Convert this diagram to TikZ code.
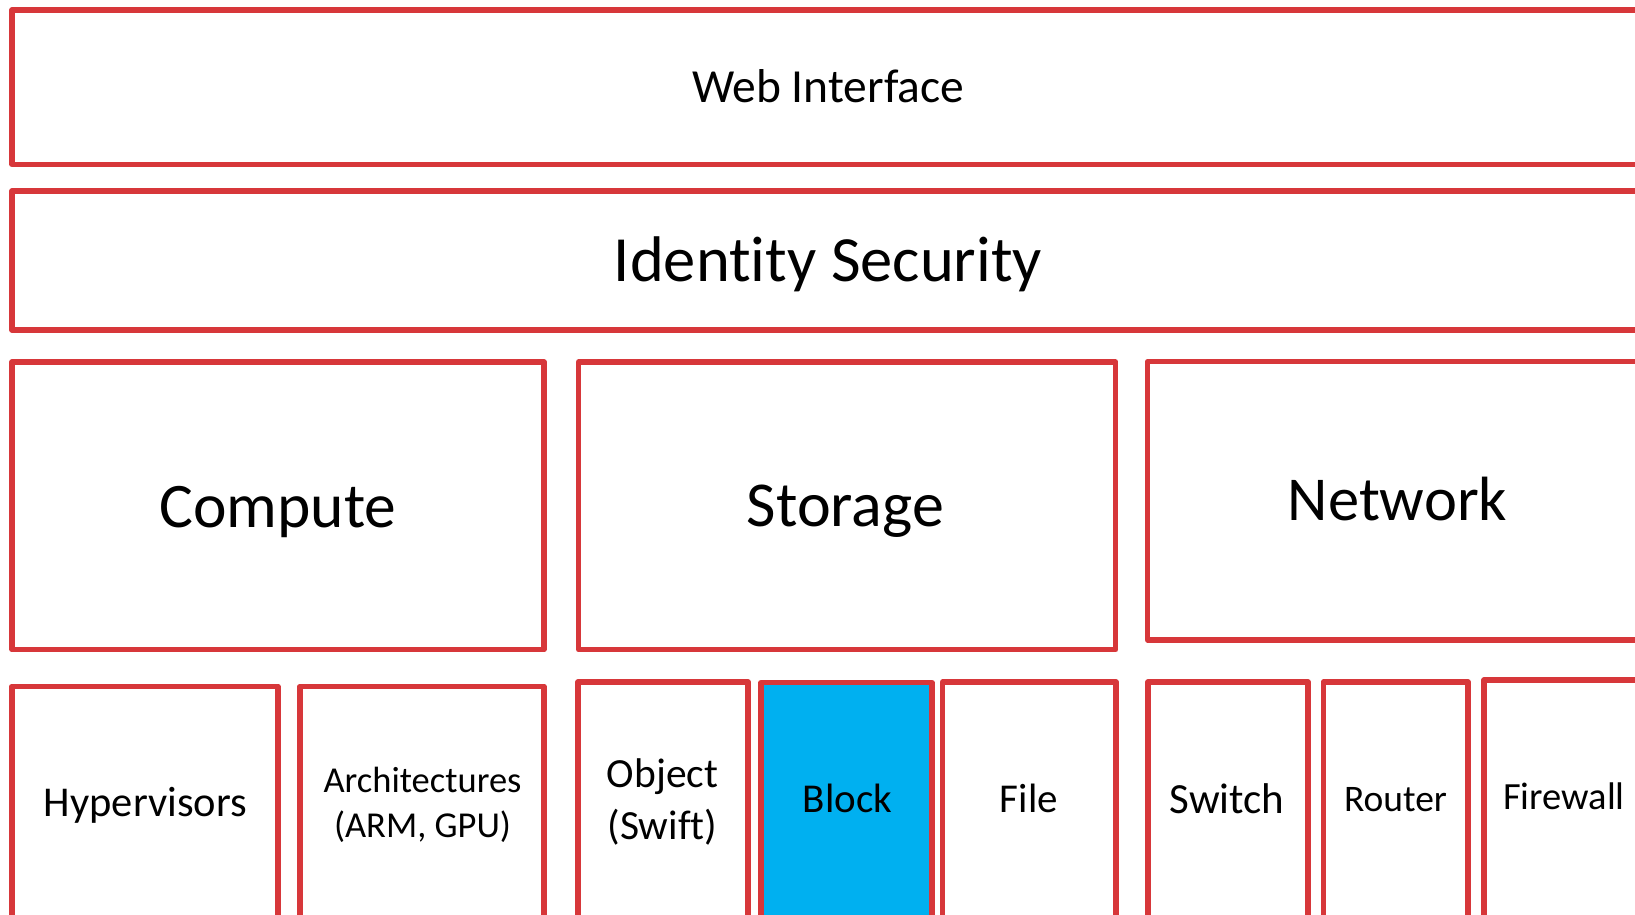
\documentclass[tikz,border=0pt]{standalone}
\usepackage{fontspec}
\setmainfont{Carlito}[RawFeature={-liga;-dlig}]
\definecolor{boxred}{HTML}{D7373A}
\definecolor{blockblue}{HTML}{00B0F0}
\tikzset{
  layer/.style={draw=boxred, line width=5.4pt, line join=round, rectangle, inner sep=0pt},
  lbl/.style={anchor=base, inner sep=0pt, text=black},
}
\newcommand{\twolines}[2]{\begin{tabular}[b]{@{}c@{}}#1\\#2\end{tabular}}
\begin{document}
\begin{tikzpicture}[x=1pt, y=-1pt]
  \useasboundingbox (0,0) rectangle (1635,915);
  \clip (0,0) rectangle (1635,915);

  % layer boxes, given by their stroke centre lines
  \newcommand{\layerbox}[6][]{%
    \node[layer, #1, minimum width={(#4)-(#2)}, minimum height={(#5)-(#3)}]
      (#6) at ({((#2)+(#4))/2}, {((#3)+(#5))/2}) {};}

  \layerbox{12}{10}{1670}{164.5}{web}
  \layerbox{12}{191}{1670}{330}{ident}
  \layerbox{12}{362}{544}{649.7}{compute}
  \layerbox{578.7}{362}{1115.7}{649.7}{storage}
  \layerbox{1147.7}{361.7}{1660}{640}{network}

  \layerbox{12}{686.3}{278}{980}{hyper}
  \layerbox{300}{686.3}{544}{980}{arch}
  \layerbox{578}{682}{748}{980}{object}
  \layerbox[fill=blockblue]{761}{682.7}{932}{980}{block}
  \layerbox{942.6}{682}{1116}{980}{file}
  \layerbox{1148}{682}{1308}{980}{switch}
  \layerbox{1323.3}{682}{1468}{980}{router}
  \layerbox{1484}{680}{1660}{980}{firewall}

  % labels, placed by their baselines
  \node[lbl, font=\fontsize{47.5}{57}\selectfont] (tweb) at (828,103) {Web Interface};
  \node[lbl, font=\fontsize{64.5}{77}\selectfont] (tident) at (828,281.7) {Identity Security};
  \node[lbl, font=\fontsize{63.5}{76}\selectfont] (tcompute) at (278,527.7) {Compute};
  \node[lbl, font=\fontsize{64}{77}\selectfont] (tstorage) at (845.4,526) {Storage};
  \node[lbl, font=\fontsize{62.5}{75}\selectfont] (tnetwork) at (1397.5,520.7) {Network};

  \node[lbl, font=\fontsize{42.5}{51}\selectfont] (thyper) at (145.4,816.7) {Hypervisors};
  \node[lbl, font=\fontsize{36.5}{44.6}\selectfont] (tarch) at (422.5,837.3)
    {\twolines{Architectures}{(ARM, GPU)}};
  \node[lbl, font=\fontsize{41.5}{51.3}\selectfont] (tobject) at (662.5,839)
    {\twolines{Object}{(Swift)}};
  \node[lbl, font=\fontsize{41}{49}\selectfont] (tblock) at (847.5,812.7) {Block};
  \node[lbl, font=\fontsize{41}{49}\selectfont] (tfile) at (1029,812.7) {File};
  \node[lbl, font=\fontsize{43}{52}\selectfont] (tswitch) at (1227,813.3) {Switch};
  \node[lbl, font=\fontsize{37.5}{45}\selectfont] (trouter) at (1395.5,811) {Router};
  \node[lbl, font=\fontsize{38.5}{46}\selectfont] (tfirewall) at (1564,809.3) {Firewall};
\end{tikzpicture}
\end{document}
